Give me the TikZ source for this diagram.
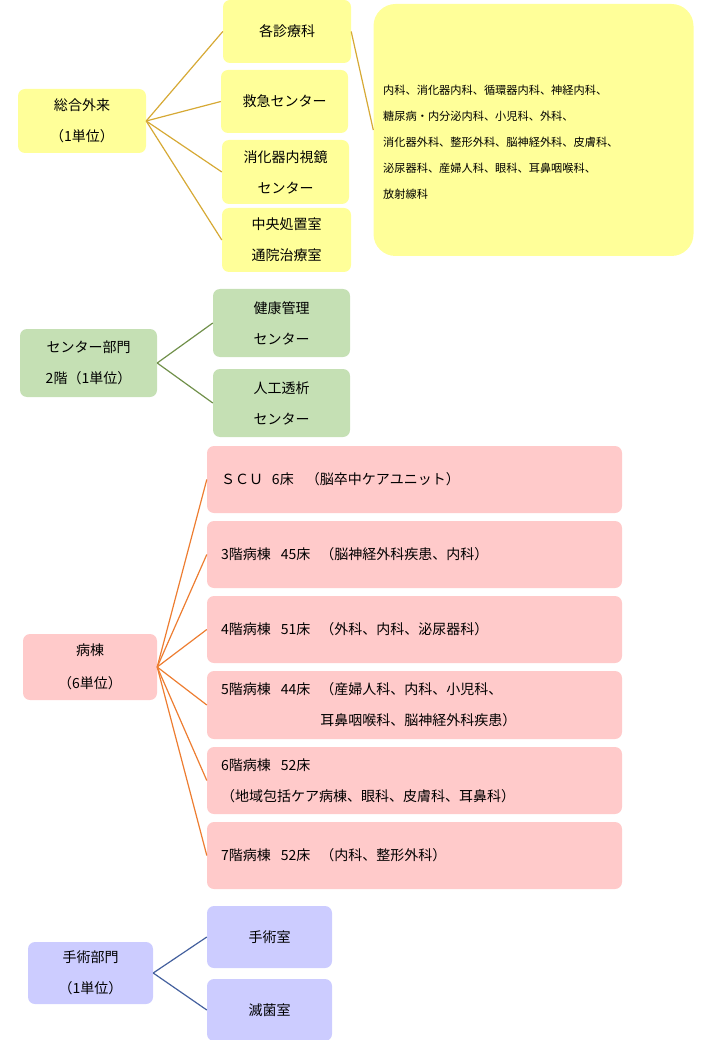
\documentclass[tikz,border=0pt]{standalone}
\usepackage{fontspec}
\setmainfont{Noto Sans CJK JP}
\definecolor{yfill}{HTML}{FFFF99}
\definecolor{gfill}{HTML}{C5E0B4}
\definecolor{pfill}{HTML}{FFCACA}
\definecolor{bfill}{HTML}{CCCCFF}
\definecolor{yline}{HTML}{D6A935}
\definecolor{gline}{HTML}{70904A}
\definecolor{pline}{HTML}{ED7D31}
\definecolor{bline}{HTML}{44609E}
\tikzset{
  box/.style={rectangle, rounded corners=7pt, inner sep=0pt, align=center,
    font={\fontsize{14}{31}\selectfont}},
  ybox/.style={box, fill=yfill},
  gbox/.style={box, fill=gfill},
  pbox/.style={box, fill=pfill},
  bbox/.style={box, fill=bfill},
  wardbox/.style={box, fill=pfill, minimum width=415pt, minimum height=67pt,
    text width=387pt, inner xsep=14pt, align=left},
  conn/.style={line width=1.2pt},
}
\begin{document}
\begin{tikzpicture}[x=1pt,y=-1pt]
\useasboundingbox (0,0) rectangle (720,1040);
% section 1
\node[ybox, minimum width=128pt, minimum height=64pt] (sogo) at (82,121) {総合外来\\（1単位）};
\node[ybox, minimum width=128pt, minimum height=63pt] (kaku) at (287,31.5) {各診療科};
\node[ybox, minimum width=127pt, minimum height=63pt] (kyu) at (284.5,101.5) {救急センター};
\node[ybox, minimum width=127pt, minimum height=64pt] (shoka) at (285.5,172) {消化器内視鏡\\センター};
\node[ybox, minimum width=129pt, minimum height=64pt] (chuo) at (286.5,240) {中央処置室\\通院治療室};
\node[ybox, rounded corners=22pt, minimum width=320pt, minimum height=252pt] (big) at (533.5,130) {};
\node[anchor=west, align=left, inner sep=0pt, font={\fontsize{11.2}{26}\selectfont}] (bigtext) at (383,142)
 {内科、消化器内科、循環器内科、神経内科、\\糖尿病・内分泌内科、小児科、外科、\\消化器外科、整形外科、脳神経外科、皮膚科、\\泌尿器科、産婦人科、眼科、耳鼻咽喉科、\\放射線科};
\foreach \c in {kaku,kyu,shoka,chuo} \draw[conn, yline] (sogo.east) -- (\c.west);
\draw[conn, yline] (kaku.east) -- (big.west);
% section 2
\node[gbox, minimum width=137pt, minimum height=68pt] (center) at (88.5,363) {センター部門\\2階（1単位）};
\node[gbox, minimum width=137pt, minimum height=68pt] (kenko) at (281.5,323) {健康管理\\センター};
\node[gbox, minimum width=137pt, minimum height=68pt] (toseki) at (281.5,403) {人工透析\\センター};
\foreach \c in {kenko,toseki} \draw[conn, gline] (center.east) -- (\c.west);
% section 3
\node[pbox, minimum width=134pt, minimum height=66pt, font={\fontsize{14}{33}\selectfont}] (byoto) at (90,667) {病棟\\（6単位）};
\node[wardbox] (scu) at (414.5,479.5) {ＳＣＵ\hspace{9pt}6床\hspace{12pt}（脳卒中ケアユニット）};
\node[wardbox] (w3) at (414.5,554.5) {3階病棟\hspace{10pt}45床\hspace{10pt}（脳神経外科疾患、内科）};
\node[wardbox] (w4) at (414.5,629.5) {4階病棟\hspace{10pt}51床\hspace{10pt}（外科、内科、泌尿器科）};
\node[wardbox, minimum height=68pt] (w5) at (414.5,705) {5階病棟\hspace{10pt}44床\hspace{10pt}（産婦人科、内科、小児科、\\\phantom{5階病棟\hspace{10pt}44床\hspace{10pt}}耳鼻咽喉科、脳神経外科疾患）};
\node[wardbox] (w6) at (414.5,780.5) {6階病棟\hspace{10pt}52床\\（地域包括ケア病棟、眼科、皮膚科、耳鼻科）};
\node[wardbox] (w7) at (414.5,855.5) {7階病棟\hspace{10pt}52床\hspace{10pt}（内科、整形外科）};
\foreach \c in {scu,w3,w4,w5,w6,w7} \draw[conn, pline] (byoto.east) -- (\c.west);
% section 4
\node[bbox, minimum width=125pt, minimum height=62pt] (shujutsu) at (90.5,973) {手術部門\\（1単位）};
\node[bbox, minimum width=125pt, minimum height=62pt] (room) at (269.5,937) {手術室};
\node[bbox, minimum width=125pt, minimum height=62pt] (mekkin) at (269.5,1010) {滅菌室};
\foreach \c in {room,mekkin} \draw[conn, bline] (shujutsu.east) -- (\c.west);
\end{tikzpicture}
\end{document}
